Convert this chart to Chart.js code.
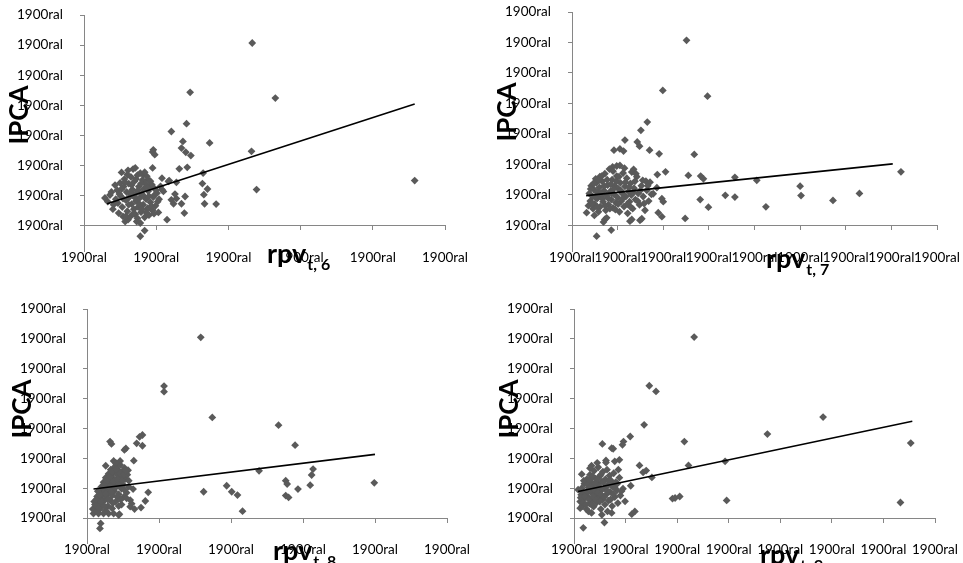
<!DOCTYPE html>
<html>
<head>
<meta charset="utf-8">
<script src="https://cdn.jsdelivr.net/npm/chart.js@4.4.0/dist/chart.umd.min.js"></script>
<style>
  body { margin: 0; background: #fff; }
  canvas { position: absolute; }
</style>
</head>
<body>
<canvas id="grafico6" width="481" height="281" style="left:0px;top:0px"></canvas>
<canvas id="grafico7" width="482" height="281" style="left:481px;top:0px"></canvas>
<canvas id="grafico8" width="481" height="282" style="left:0px;top:281px"></canvas>
<canvas id="grafico9" width="482" height="282" style="left:481px;top:281px"></canvas>
<script>

// Dados (x = rpv defasado, y = IPCA)

let pontos6 = [
  [2.33, 6.07], [2.65, 4.24], [1.47, 4.43], [1.42, 3.39], [1.21, 3.13], [4.58, 1.50], [2.32, 2.47], [2.39, 1.20],
  [1.74, 2.75], [1.37, 2.80], [1.35, 2.58], [1.41, 2.44], [1.48, 2.33], [1.43, 1.94], [1.32, 1.89], [1.65, 1.75],
  [1.64, 1.40], [1.71, 1.22], [1.66, 1.03], [1.67, 0.73], [1.83, 0.72], [1.40, 0.97], [1.35, 0.73], [1.39, 0.42],
  [1.15, 0.20], [1.26, 1.05], [1.28, 0.90], [1.21, 0.86], [1.24, 0.73], [1.17, 1.47], [1.28, 1.44], [1.08, 1.58],
  [1.10, 1.14], [1.06, 1.31], [0.96, 2.52], [0.98, 2.36], [0.95, 2.45], [0.95, 1.92], [0.84, -0.16], [0.78, -0.35],
  [0.94, 0.53], [0.98, 1.03], [1.08, 1.20], [1.18, 1.50], [0.89, 1.53], [0.82, 1.69], [0.68, 1.88], [0.54, 0.31],
  [0.29, 0.92], [0.36, 1.02], [0.41, 0.70], [0.44, 0.88], [0.46, 1.18], [0.48, 0.42], [0.50, 1.42], [0.52, 1.77],
  [0.51, 0.98], [0.53, 0.62], [0.55, 1.30], [0.56, 1.55], [0.57, 0.14], [0.58, 0.85], [0.59, 1.12], [0.60, 0.48],
  [0.61, 1.84], [0.61, 0.20], [0.62, 1.40], [0.63, 0.95], [0.64, 0.30], [0.65, 1.62], [0.66, 0.72], [0.67, 1.20],
  [0.68, 1.00], [0.69, 0.55], [0.70, 1.48], [0.71, 1.92], [0.71, 0.38], [0.72, 0.82], [0.73, 0.14], [0.73, 1.10],
  [0.74, 1.68], [0.75, 0.62], [0.76, 1.30], [0.77, 0.92], [0.78, 1.75], [0.78, 0.09], [0.79, 0.45], [0.80, 1.05],
  [0.81, 1.52], [0.82, 0.70], [0.83, 1.22], [0.84, 0.28], [0.85, 1.40], [0.86, 0.88], [0.87, 1.64], [0.88, 0.58],
  [0.89, 1.15], [0.90, 0.35], [0.91, 1.31], [0.92, 0.78], [0.94, 1.36], [0.95, 0.51], [0.96, 0.95], [0.97, 1.25],
  [0.99, 0.66], [1.01, 1.08], [1.03, 0.44], [1.04, 0.88],
  [0.33, 0.80], [0.38, 1.12], [0.40, 0.55], [0.43, 1.35], [0.47, 0.75], [0.49, 1.05], [0.52, 1.22], [0.54, 0.90],
  [0.57, 1.45], [0.58, 0.32], [0.60, 1.70], [0.62, 0.70], [0.64, 1.08], [0.66, 1.35], [0.68, 0.40], [0.70, 0.95],
  [0.72, 1.55], [0.74, 0.25], [0.75, 1.18], [0.77, 0.72], [0.79, 1.40], [0.80, 0.55], [0.82, 1.00], [0.84, 1.78],
  [0.86, 0.45], [0.88, 1.25], [0.90, 0.98], [0.92, 1.48], [0.93, 0.65], [0.97, 0.40], [1.00, 1.18], [1.02, 0.80]
]

let pontos7 = [
  [2.51, 6.07], [1.99, 4.43], [2.97, 4.24], [1.65, 3.39], [1.51, 3.12], [1.16, 2.80], [1.43, 2.74], [1.48, 2.60],
  [0.92, 2.47], [1.05, 2.51], [1.13, 2.44], [1.70, 2.47], [1.91, 2.35], [2.68, 2.33], [1.87, 1.67], [2.05, 1.76],
  [2.55, 1.64], [2.82, 1.62], [2.88, 1.53], [3.57, 1.58], [4.05, 1.48], [5.00, 1.29], [7.21, 1.76], [6.30, 1.05],
  [5.02, 0.98], [5.72, 0.82], [3.36, 0.99], [3.57, 0.93], [2.81, 0.85], [2.99, 0.60], [4.25, 0.61], [2.48, 0.23],
  [1.89, 0.42], [1.97, 0.29], [1.78, 1.04], [1.97, 0.88], [2.00, 0.78], [0.32, 0.42], [0.49, 0.33], [0.54, -0.35],
  [0.86, -0.15], [0.72, 0.20], [0.69, 0.11], [0.76, 0.25], [1.27, 0.14], [1.31, 0.20], [1.49, 0.17], [1.53, 0.22],
  [1.62, 1.45], [1.71, 1.42], [1.86, 1.24], [0.89, 1.92], [0.98, 1.95], [1.05, 1.97], [1.35, 1.84], [1.31, 1.75],
  [0.52, 1.53], [0.61, 1.60],
  [0.38, 1.05], [0.40, 0.80], [0.42, 1.30], [0.45, 0.95], [0.48, 1.18], [0.50, 0.70], [0.53, 1.40], [0.55, 0.88],
  [0.57, 1.08], [0.60, 1.25], [0.62, 0.62], [0.64, 0.95], [0.66, 1.45], [0.68, 0.78], [0.70, 1.15], [0.72, 1.70],
  [0.74, 0.50], [0.76, 1.00], [0.78, 1.32], [0.80, 0.68], [0.82, 1.85], [0.84, 1.12], [0.86, 0.85], [0.88, 1.50],
  [0.90, 0.58], [0.92, 1.02], [0.94, 1.30], [0.96, 0.75], [0.98, 1.62], [1.00, 0.92], [1.02, 1.20], [1.04, 0.45],
  [1.06, 1.40], [1.08, 0.80], [1.10, 1.05], [1.12, 1.72], [1.14, 0.62], [1.16, 1.28], [1.18, 0.95], [1.20, 1.55],
  [1.22, 0.40], [1.24, 1.12], [1.26, 0.78], [1.28, 1.38], [1.30, 1.00], [1.33, 0.55], [1.36, 1.22], [1.39, 0.85],
  [1.42, 1.60], [1.45, 1.05], [1.48, 0.68], [1.52, 1.30], [1.56, 0.95], [1.60, 0.50], [1.64, 1.15], [1.68, 0.80],
  [1.74, 1.02], [1.40, 1.70], [1.55, 1.48], [1.15, 1.88], [0.90, 1.78], [0.65, 1.62], [0.58, 0.45], [0.46, 0.55],
  [0.36, 0.65], [0.41, 1.20], [0.44, 0.72], [0.47, 1.38], [0.51, 0.92], [0.54, 1.10], [0.56, 0.60], [0.59, 1.48],
  [0.63, 1.05], [0.67, 0.88], [0.71, 1.30], [0.73, 0.65], [0.77, 1.50], [0.79, 0.90], [0.83, 0.55], [0.85, 1.35],
  [0.87, 1.05], [0.91, 1.20], [0.95, 0.52], [0.97, 1.45], [1.01, 0.70], [1.03, 1.60], [1.07, 1.15], [1.11, 0.88],
  [1.17, 1.42], [1.21, 0.70], [1.25, 1.25], [1.29, 0.60], [1.34, 1.08], [1.38, 1.45], [1.44, 0.80], [1.50, 1.15],
  [1.58, 0.72], [1.66, 1.30]
]

let pontos8 = [
  [1.58, 6.05], [1.07, 4.42], [1.07, 4.23], [1.74, 3.37], [2.66, 3.11], [2.89, 2.44], [2.39, 1.58], [3.14, 1.64],
  [3.12, 1.44], [3.99, 1.18], [3.10, 1.10], [2.76, 1.25], [2.78, 1.14], [2.93, 0.97], [2.76, 0.75], [2.80, 0.69],
  [1.94, 1.08], [1.62, 0.88], [2.01, 0.88], [2.09, 0.77], [2.16, 0.23], [0.77, 2.78], [0.73, 2.72], [0.69, 2.50],
  [0.77, 2.42], [0.32, 2.56], [0.34, 2.48], [0.54, 2.33], [0.52, 2.28], [0.65, 1.92], [0.26, 1.75], [0.85, 0.86],
  [0.81, 0.57], [0.75, 0.35], [0.64, 0.97], [0.60, 0.38], [0.44, 0.40], [0.44, 0.10], [0.18, -0.35], [0.19, -0.18],
  [0.09, 0.15], [0.16, 0.15], [0.23, 0.15], [0.30, 0.15], [0.37, 0.15], [0.45, 0.13], [0.51, 0.71], [0.55, 0.66],
  [0.37, 1.91], [0.46, 1.91], [0.41, 1.78],
  [0.08, 0.30], [0.10, 0.55], [0.12, 0.38], [0.14, 0.72], [0.15, 0.50], [0.17, 0.88], [0.18, 0.30], [0.19, 0.65],
  [0.20, 1.05], [0.21, 0.45], [0.22, 0.80], [0.23, 1.20], [0.24, 0.58], [0.25, 0.95], [0.26, 1.35], [0.27, 0.70],
  [0.28, 1.10], [0.29, 0.40], [0.30, 1.48], [0.30, 0.85], [0.31, 1.25], [0.32, 0.60], [0.33, 1.62], [0.33, 1.00],
  [0.34, 1.38], [0.35, 0.75], [0.36, 1.15], [0.37, 1.52], [0.38, 0.90], [0.38, 1.70], [0.39, 1.28], [0.40, 0.55],
  [0.41, 1.05], [0.42, 1.45], [0.43, 1.62], [0.44, 0.80], [0.45, 1.20], [0.46, 1.78], [0.47, 1.35], [0.48, 0.98],
  [0.49, 1.55], [0.50, 1.12], [0.52, 1.68], [0.53, 1.30], [0.55, 0.85], [0.56, 1.45], [0.58, 1.05], [0.60, 0.60],
  [0.62, 0.48], [0.66, 0.30], [0.48, 0.45], [0.35, 0.32], [0.26, 0.25], [0.14, 0.22], [0.40, 1.85], [0.57, 1.60],
  [0.11, 0.45], [0.13, 0.62], [0.16, 0.35], [0.18, 0.78], [0.20, 0.55], [0.22, 0.98], [0.24, 0.40], [0.26, 0.82],
  [0.28, 1.25], [0.29, 0.62], [0.31, 1.05], [0.32, 1.40], [0.34, 0.88], [0.35, 1.55], [0.36, 0.50], [0.37, 1.22],
  [0.39, 1.02], [0.40, 1.62], [0.42, 0.70], [0.43, 1.30], [0.44, 1.10], [0.46, 1.50], [0.47, 0.62], [0.49, 1.25],
  [0.51, 1.45], [0.52, 0.95], [0.54, 1.58], [0.58, 1.25], [0.24, 1.10], [0.15, 0.90]
]

let pontos9 = [
  [2.33, 6.06], [1.46, 4.43], [1.59, 4.24], [4.83, 3.38], [1.36, 3.12], [3.75, 2.81], [6.53, 2.51], [2.14, 2.56],
  [1.09, 2.73], [0.96, 2.56], [0.94, 2.45], [0.55, 2.48], [0.73, 2.34], [0.76, 2.32], [0.88, 1.95], [0.79, 1.90],
  [0.62, 1.93], [0.62, 1.86], [2.93, 1.90], [2.22, 1.76], [1.27, 1.76], [1.34, 1.53], [1.40, 1.59], [1.51, 1.36],
  [1.10, 1.08], [1.91, 0.65], [1.96, 0.67], [2.05, 0.72], [2.96, 0.59], [6.33, 0.52], [1.12, 0.13], [1.18, 0.22],
  [0.18, -0.33], [0.59, -0.15], [0.15, 1.47], [0.34, 1.75], [0.31, 1.67], [0.99, 0.56], [0.73, 0.17], [0.54, 0.11],
  [0.34, 0.17], [0.12, 0.33], [0.08, 0.95], [0.15, 1.00],
  [0.12, 0.55], [0.14, 0.78], [0.16, 0.40], [0.18, 0.62], [0.20, 1.15], [0.22, 0.85], [0.24, 0.30], [0.25, 1.30],
  [0.27, 0.70], [0.28, 1.02], [0.30, 0.48], [0.31, 1.45], [0.32, 0.88], [0.34, 1.20], [0.35, 0.60], [0.37, 1.05],
  [0.38, 0.38], [0.39, 1.58], [0.40, 0.80], [0.42, 1.32], [0.43, 0.95], [0.44, 0.52], [0.46, 1.15], [0.47, 1.70],
  [0.48, 0.72], [0.50, 1.40], [0.51, 0.90], [0.52, 0.30], [0.54, 1.22], [0.55, 0.62], [0.56, 1.55], [0.58, 1.00],
  [0.60, 0.45], [0.61, 1.30], [0.63, 0.80], [0.64, 1.62], [0.66, 1.10], [0.67, 0.58], [0.69, 1.42], [0.70, 0.88],
  [0.72, 1.25], [0.74, 0.40], [0.75, 1.05], [0.77, 1.50], [0.79, 0.70], [0.81, 1.20], [0.83, 0.92], [0.85, 0.50],
  [0.88, 1.35], [0.90, 0.75], [0.95, 0.98], [0.86, 1.62], [0.45, 1.85], [0.28, 0.22], [0.65, 0.22],
  [0.13, 0.68], [0.15, 0.90], [0.17, 0.52], [0.19, 1.25], [0.21, 0.72], [0.23, 0.45], [0.26, 1.12], [0.27, 0.88],
  [0.29, 0.62], [0.30, 1.28], [0.33, 1.05], [0.34, 0.45], [0.36, 1.40], [0.37, 0.72], [0.39, 0.95], [0.41, 1.15],
  [0.43, 0.60], [0.45, 1.30], [0.46, 0.85], [0.49, 1.05], [0.50, 0.55], [0.52, 1.45], [0.53, 0.78], [0.57, 1.20],
  [0.59, 0.70], [0.62, 1.05], [0.65, 0.90], [0.68, 1.25], [0.71, 0.62], [0.73, 1.10], [0.76, 0.80], [0.80, 1.00],
  [0.84, 1.15], [0.92, 0.90]
]

// linhas de tendência (inicio e fim)
let tendencia6 = [[0.32, 0.73], [4.58, 4.04]]
let tendencia7 = [[0.31, 0.98], [7.03, 2.02]]
let tendencia8 = [[0.09, 0.97], [4.00, 2.13]]
let tendencia9 = [[0.08, 0.89], [6.56, 3.24]]

// rótulos dos eixos (todos saem como 1900ral no original)
let rotulosY = ['1900ral', '1900ral', '1900ral', '1900ral', '1900ral', '1900ral', '1900ral', '1900ral']
let rotulosX6 = ['1900ral', '1900ral', '1900ral', '1900ral', '1900ral', '1900ral']
let rotulosX7 = ['1900ral', '1900ral', '1900ral', '1900ral', '1900ral', '1900ral', '1900ral', '1900ral', '1900ral']
let rotulosX8 = ['1900ral', '1900ral', '1900ral', '1900ral', '1900ral', '1900ral']
let rotulosX9 = ['1900ral', '1900ral', '1900ral', '1900ral', '1900ral', '1900ral', '1900ral', '1900ral']

let yMin = -0.85
let yMax = 7

// titulos IPCA e rpv com subscrito
const titulosEixos = {
  id: 'titulosEixos',
  afterDraw(chart, args, opts) {
    const ctx = chart.ctx
    const area = chart.chartArea
    const eixoX = chart.scales.y.getPixelForValue(0)

    ctx.save()
    ctx.fillStyle = '#000'
    ctx.translate(area.left - 65, area.top + 100)
    ctx.rotate(-Math.PI / 2)
    ctx.font = 'bold 26px Lato'
    ctx.textAlign = 'center'
    ctx.textBaseline = 'alphabetic'
    ctx.fillText('IPCA', 0, 9)
    ctx.restore()

    ctx.save()
    ctx.fillStyle = '#000'
    ctx.textBaseline = 'alphabetic'
    ctx.textAlign = 'left'
    ctx.font = 'bold 27px Lato'
    let x = area.left + opts.dx
    let y = eixoX + opts.dy
    ctx.fillText('rpv', x, y)
    let w = ctx.measureText('rpv').width
    ctx.font = 'bold 16px Lato'
    ctx.fillText(opts.sub, x + w + 1, y + 7)
    ctx.restore()
  }
}

// tira o espaço extra que o Chart.js reserva para os rótulos
function zerarMargens(s) {
  s.paddingTop = 0
  s.paddingBottom = 0
  s.paddingLeft = 0
  s.paddingRight = 0
}

function montarGrafico(id, pontos, tendencia, rotulosX, xMax, caixa, titulo) {
  const canvas = document.getElementById(id)

  const config = {
    type: 'scatter',
    data: {
      datasets: [
        {
          data: tendencia.map(p => ({ x: p[0], y: p[1] })),
          showLine: true,
          borderColor: '#000',
          borderWidth: 1.6,
          pointRadius: 0
        },
        {
          data: pontos.map(p => ({ x: p[0], y: p[1] })),
          pointStyle: 'rectRot',
          pointRadius: 3.9,
          pointBackgroundColor: '#5a5a5a',
          pointBorderWidth: 0,
          showLine: false
        }
      ]
    },
    plugins: [titulosEixos],
    options: {
      responsive: false,
      animation: false,
      layout: {
        padding: {
          top: caixa.top,
          right: canvas.width - caixa.right,
          left: 0,
          bottom: canvas.height - caixa.bottom
        }
      },
      plugins: {
        legend: { display: false },
        tooltip: { enabled: false },
        titulosEixos: titulo
      },
      scales: {
        x: {
          type: 'linear',
          position: { y: 0 },
          min: 0,
          max: xMax,
          afterFit: zerarMargens,
          ticks: {
            stepSize: 1,
            autoSkip: false,
            maxRotation: 0,
            minRotation: 0,
            padding: 20,
            color: '#000',
            font: { family: 'Lato', size: 13.5 },
            callback: (v, i) => rotulosX[i]
          },
          grid: { drawOnChartArea: false, drawTicks: true, tickLength: 4, color: '#868686' },
          border: { color: '#868686', width: 1 }
        },
        y: {
          type: 'linear',
          min: yMin,
          max: yMax,
          afterFit: function (s) {
            s.width = caixa.left
            zerarMargens(s)
          },
          ticks: {
            stepSize: 1,
            includeBounds: false,
            padding: 17,
            color: '#000',
            font: { family: 'Lato', size: 13.5 },
            callback: (v, i) => rotulosY[i]
          },
          grid: { drawOnChartArea: false, drawTicks: true, tickLength: 4, color: '#868686' },
          border: { color: '#868686', width: 1 }
        }
      }
    }
  }

  return new Chart(canvas, config)
}

montarGrafico('grafico6', pontos6, tendencia6, rotulosX6, 5,
  { left: 84, right: 445, top: 15, bottom: 251.3 }, { dx: 183, dy: 37, sub: 't, 6' })
montarGrafico('grafico7', pontos7, tendencia7, rotulosX7, 8,
  { left: 91, right: 456, top: 12, bottom: 251.4 }, { dx: 194, dy: 43, sub: 't, 7' })
montarGrafico('grafico8', pontos8, tendencia8, rotulosX8, 5,
  { left: 87, right: 447, top: 28, bottom: 262.4 }, { dx: 186, dy: 42, sub: 't, 8' })
montarGrafico('grafico9', pontos9, tendencia9, rotulosX9, 7,
  { left: 93, right: 454, top: 28, bottom: 262.4 }, { dx: 186, dy: 46, sub: 't, 9' })

</script>
</body>
</html>
